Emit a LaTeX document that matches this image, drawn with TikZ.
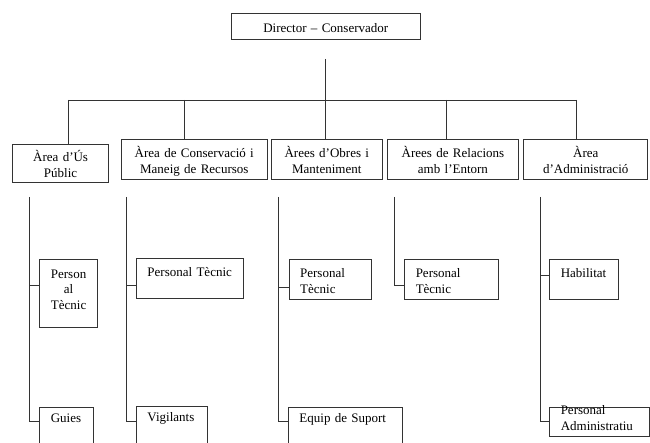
\documentclass[tikz,border=0pt]{standalone}
\usepackage{fontspec}
\setmainfont{Liberation Serif}

\tikzset{
  link/.style={line width=0.9pt, black!80},
  unit/.style={draw=black!80, line width=0.9pt, text=black, anchor=north west,
    inner sep=0pt, align=center, font=\fontsize{13}{16}\selectfont},
  staff/.style={unit, inner xsep=11pt, align=left, font=\fontsize{13}{16}\selectfont},
}

\begin{document}
\begin{tikzpicture}[x=1pt,y=-1pt]

\useasboundingbox (0,0) rectangle (650,443);

\node[unit, text width=189.3pt, text height=18.4pt, text depth=7.6pt] (director) at (230.7,13.3) {Director – Conservador};

\node[unit, text width=96.3pt, text height=17pt, text depth=20.4pt] (publicarea) at (12,144.3) {Àrea d’Ús\\Públic};
\node[unit, text width=145.7pt, text height=17.4pt, text depth=22.6pt] (conservarea) at (121,139.3) {Àrea de Conservació i\\Maneig de Recursos};
\node[unit, text width=110.7pt, text height=17.4pt, text depth=22.6pt] (worksarea) at (271,139.3) {Àrees d’Obres i\\Manteniment};
\node[unit, text width=130.4pt, text height=17.4pt, text depth=22.6pt] (relarea) at (387.3,139.3) {Àrees de Relacions\\amb l’Entorn};
\node[unit, text width=124pt, text height=17.4pt, text depth=22.6pt] (adminarea) at (523.3,139.3) {Àrea\\d’Administració};

% first column
\node[staff, align=center, text width=36.3pt, text height=18.4pt, text depth=49.6pt, font=\fontsize{13}{15.5}\selectfont] (tech1) at (39,259.3) {Person\\al\\Tècnic};
\node[staff, text width=31.4pt, text height=15pt, text depth=40pt] (guides) at (39.3,406.7) {Guies};

% second column
\node[staff, text width=85.3pt, text height=18pt, text depth=21.7pt] (tech2) at (136,258) {Personal Tècnic};
\node[staff, text width=48.7pt, text height=15.5pt, text depth=45pt] (guards) at (136,405.7) {Vigilants};

% third column
\node[staff, text width=60.3pt, text height=18pt, text depth=21.7pt] (tech3) at (288.7,259.3) {Personal\\Tècnic};
\node[staff, text width=92.3pt, text height=15pt, text depth=40pt] (support) at (288,407.3) {Equip de Suport};

% fourth column
\node[staff, text width=72pt, text height=18pt, text depth=21.7pt] (tech4) at (404.3,259.3) {Personal\\Tècnic};

% fifth column
\node[staff, text width=46.4pt, text height=18pt, text depth=21.7pt] (habitat) at (549.3,259.3) {Habilitat};
\node[staff, text width=77.7pt, text height=7.8pt, text depth=21.5pt] (adminstaff) at (549.3,406.7) {Personal\\Administratiu};

% tree from the director to the areas
\coordinate (trunk) at (325.3,59);
\coordinate (hub) at (325.3,100);
\coordinate (busleft) at (68.3,100);
\coordinate (busright) at (576.7,100);
\coordinate (drop2) at (184.3,100);
\coordinate (drop3) at (325.7,100);
\coordinate (drop4) at (446.7,100);

\draw[link] (trunk) to (hub);
\draw[link] (busleft) to (busright);
\draw[link] (busleft) to (busleft |- publicarea.north);
\draw[link] (drop2) to (drop2 |- conservarea.north);
\draw[link] (drop3) to (drop3 |- worksarea.north);
\draw[link] (drop4) to (drop4 |- relarea.north);
\draw[link] (busright) to (busright |- adminarea.north);

% spines below the areas
\coordinate (spine1) at (29.3,197);
\coordinate (fork1a) at (29.3,285);
\coordinate (fork1b) at (29.3,421.7);
\draw[link] (spine1) to (fork1b) to (fork1b -| guides.west);
\draw[link] (fork1a) to (fork1a -| tech1.west);

\coordinate (spine2) at (126,197);
\coordinate (fork2a) at (126,285);
\coordinate (fork2b) at (126,421.7);
\draw[link] (spine2) to (fork2b) to (fork2b -| guards.west);
\draw[link] (fork2a) to (fork2a -| tech2.west);

\coordinate (spine3) at (278.7,197);
\coordinate (fork3a) at (278.7,287.3);
\coordinate (fork3b) at (278.7,421.7);
\draw[link] (spine3) to (fork3b) to (fork3b -| support.west);
\draw[link] (fork3a) to (fork3a -| tech3.west);

\coordinate (spine4) at (394.3,197);
\coordinate (fork4a) at (394.3,285.7);
\draw[link] (spine4) to (fork4a) to (fork4a -| tech4.west);

\coordinate (spine5) at (540,197);
\coordinate (fork5a) at (540,275);
\coordinate (fork5b) at (540,421.7);
\draw[link] (spine5) to (fork5b) to (fork5b -| adminstaff.west);
\draw[link] (fork5a) to (fork5a -| habitat.west);

\end{tikzpicture}
\end{document}
